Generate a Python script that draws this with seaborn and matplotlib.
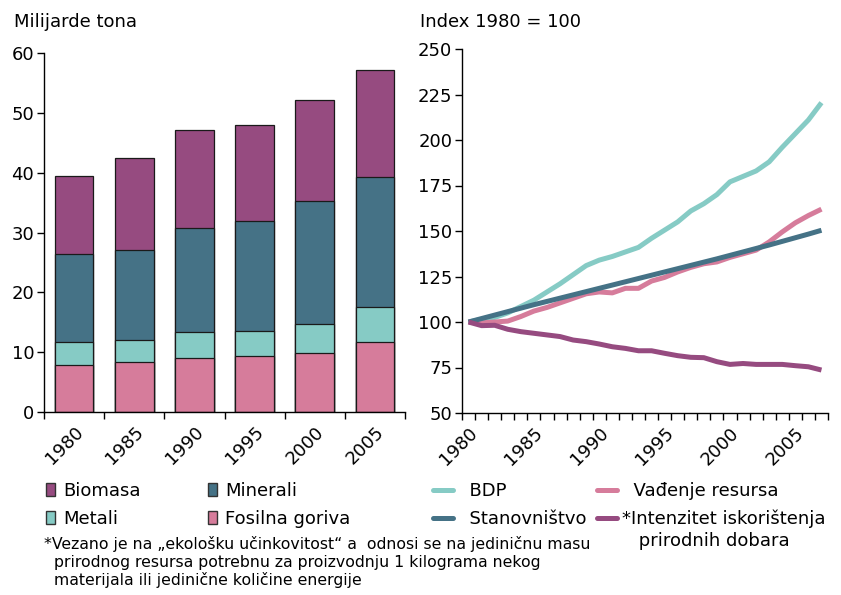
import numpy as np
import pandas as pd
import matplotlib
matplotlib.use("Agg")
import matplotlib.pyplot as plt
from matplotlib.patches import Patch
from matplotlib.lines import Line2D
import seaborn as sns

# --- data ---
bar_years = ["1980", "1985", "1990", "1995", "2000", "2005"]
fosilna = [7.9, 8.4, 9.1, 9.3, 9.8, 11.7]
metali = [3.8, 3.55, 4.2, 4.2, 4.9, 5.8]
minerali = [14.7, 15.15, 17.5, 18.5, 20.6, 21.8]
biomasa = [13.1, 15.4, 16.4, 15.9, 16.8, 17.9]

line_years = list(range(1980, 2008))
bdp = [100, 101.5, 102.5, 105, 108.5, 112, 116.5, 121, 126, 131, 134, 136, 138.5, 141,
       146, 150.5, 155, 161, 165, 170, 177, 180, 183, 188, 196, 203.5, 211, 220.5]
stanovnistvo = [100, 101.9, 103.8, 105.7, 107.6, 109.5, 111.3, 113.1, 114.9, 116.7, 118.5,
                120.3, 122.1, 123.9, 125.7, 127.5, 129.3, 131.1, 132.9, 134.7, 136.6, 138.5,
                140.4, 142.3, 144.3, 146.3, 148.3, 150.4]
vadjenje = [100, 99.5, 100, 100.5, 103, 106, 108, 110.5, 113, 115.5, 116.5, 116, 118.5, 118.5,
            122.5, 124.5, 127.5, 130, 132, 133, 135.5, 137.5, 139.5, 144, 149.5, 154.5, 158.5, 162]
intenzitet = [100, 98, 98.2, 96, 94.7, 93.8, 92.9, 92, 90.1, 89.2, 87.9, 86.4, 85.5, 84.2, 84.2,
              82.8, 81.5, 80.6, 80.4, 78.2, 76.7, 77.2, 76.7, 76.7, 76.7, 76, 75.4, 73.6]

# colours
C_BIO = "#964b80"
C_MIN = "#457286"
C_MET = "#86cbc5"
C_FOS = "#d67c9b"

W, H = 841, 595
sns.set_style("ticks")
plt.rcParams["font.family"] = ["DejaVu Sans"]
plt.rcParams.update({"text.color": "black", "axes.labelcolor": "black",
                     "xtick.color": "black", "ytick.color": "black"})

fig = plt.figure(figsize=(W / 100, H / 100), dpi=100)


def px_axes(x0, y0, x1, y1):
    # axes rectangle given in figure pixels (top-left origin)
    return fig.add_axes([x0 / W, 1 - y1 / H, (x1 - x0) / W, (y1 - y0) / H])


# --- left: stacked bars ---
ax1 = px_axes(44, 53, 405, 412)
df = pd.DataFrame({"godina": bar_years, "fos": fosilna, "met": metali,
                   "min": minerali, "bio": biomasa})
df["c_met"] = df["fos"] + df["met"]
df["c_min"] = df["c_met"] + df["min"]
df["c_bio"] = df["c_min"] + df["bio"]

for col, color in [("c_bio", C_BIO), ("c_min", C_MIN), ("c_met", C_MET), ("fos", C_FOS)]:
    sns.barplot(data=df, x="godina", y=col, color=color, saturation=1, width=0.64,
                edgecolor="#1a1a1a", linewidth=0.9, ax=ax1)

ax1.set_xlim(-0.5, 5.5)
ax1.set_ylim(0, 60)
ax1.set_yticks(range(0, 61, 10))
ax1.set_xticks(range(len(bar_years)))
ax1.set_xticklabels(bar_years, rotation=45, ha="right", rotation_mode="anchor")
ax1.set_xticks(np.arange(-0.5, 6, 1), minor=True)
ax1.tick_params(axis="x", which="major", length=0, pad=8, labelsize=13)
ax1.tick_params(axis="x", which="minor", length=5, width=1, direction="out")
ax1.tick_params(axis="y", length=5, width=1, direction="out", labelsize=13, pad=2)
ax1.set_xlabel("")
ax1.set_ylabel("")

# --- right: index lines ---
ax2 = px_axes(462, 49, 828, 413)
for vals, color in [(bdp, C_MET), (vadjenje, C_FOS), (stanovnistvo, C_MIN), (intenzitet, C_BIO)]:
    sns.lineplot(x=line_years, y=vals, color=color, linewidth=3.6, ax=ax2,
                 solid_joinstyle="round", solid_capstyle="butt")

ax2.set_xlim(1979.5, 2007.5)
ax2.set_ylim(50, 250)
ax2.set_yticks(range(50, 251, 25))
ax2.set_xticks(range(1980, 2006, 5))
ax2.set_xticklabels([str(y) for y in range(1980, 2006, 5)], rotation=45, ha="right",
                    rotation_mode="anchor")
ax2.set_xticks(np.arange(1979.5, 2008, 1), minor=True)
ax2.tick_params(axis="x", which="major", length=0, pad=8, labelsize=13)
ax2.tick_params(axis="x", which="minor", length=5, width=1, direction="out")
ax2.tick_params(axis="y", length=5, width=1, direction="out", labelsize=13, pad=2)
ax2.set_xlabel("")
ax2.set_ylabel("")

for ax in (ax1, ax2):
    sns.despine(ax=ax)
    for s in ("left", "bottom"):
        ax.spines[s].set_color("black")
        ax.spines[s].set_linewidth(1)

# axis titles
fig.text(14 / W, 1 - 22 / H, "Milijarde tona", fontsize=13, va="center", ha="left")
fig.text(420 / W, 1 - 22 / H, "Index 1980 = 100", fontsize=13, va="center", ha="left")

# --- legends ---
bar_handles = [Patch(facecolor=C_BIO, edgecolor="#333333", label="Biomasa"),
               Patch(facecolor=C_MET, edgecolor="#333333", label="Metali"),
               Patch(facecolor=C_MIN, edgecolor="#333333", label="Minerali"),
               Patch(facecolor=C_FOS, edgecolor="#333333", label="Fosilna goriva")]
fig.legend(handles=bar_handles, ncol=2, loc="upper left",
           bbox_to_anchor=(46 / W, 1 - 482 / H), frameon=False, fontsize=13,
           handlelength=0.48, handleheight=0.72, handletextpad=0.45,
           columnspacing=3.75, labelspacing=0.55, borderpad=0, borderaxespad=0)

line_handles = [Line2D([], [], color=C_MET, lw=3.6, label="  BDP"),
                Line2D([], [], color=C_MIN, lw=3.6, label="  Stanovništvo"),
                Line2D([], [], color=C_FOS, lw=3.6, label="  Vađenje resursa"),
                Line2D([], [], color=C_BIO, lw=3.6, label="*Intenzitet iskorištenja")]
fig.legend(handles=line_handles, ncol=2, loc="upper left",
           bbox_to_anchor=(433 / W, 1 - 482 / H), frameon=False, fontsize=13,
           handlelength=1.1, handletextpad=0.3, columnspacing=0.55,
           labelspacing=0.55, borderpad=0, borderaxespad=0)
fig.text(633 / W, 1 - 541 / H, " prirodnih dobara", fontsize=13, va="center", ha="left")

# footnote
fig.text(44 / W, 1 - 536 / H,
         "*Vezano je na \u201eekološku učinkovitost\u201c a  odnosi se na jediničnu masu\n"
         "  prirodnog resursa potrebnu za proizvodnju 1 kilograma nekog\n"
         "  materijala ili jedinične količine energije",
         fontsize=11.3, va="top", ha="left", linespacing=1.22)

fig.savefig("out.png", dpi=100, facecolor="white")
